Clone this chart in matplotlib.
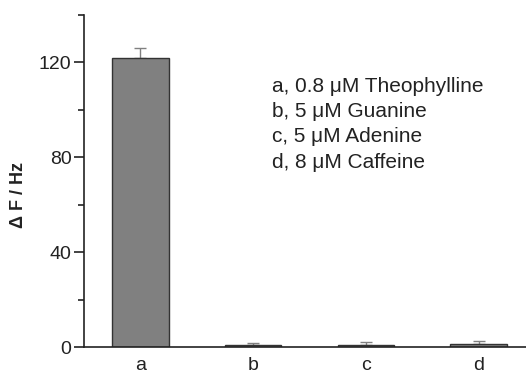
import numpy as np
import matplotlib.pyplot as plt
from matplotlib.ticker import MultipleLocator

plt.rcParams['font.family'] = ['Liberation Sans', 'DejaVu Sans']

# data
categories = ['a', 'b', 'c', 'd']
values = [122, 0.8, 1.0, 1.4]
errors = [4, 1.0, 1.0, 1.0]
legend_lines = ['a, 0.8 \u03bcM Theophylline',
                'b, 5 \u03bcM Guanine',
                'c, 5 \u03bcM Adenine',
                'd, 8 \u03bcM Caffeine']

fig = plt.figure(figsize=(5.26, 3.74), dpi=100)
ax = fig.add_axes([84 / 526, 27 / 374, (535 - 84) / 526, (347 - 15) / 374])

x = np.arange(1, len(categories) + 1)
ax.bar(x, values, width=0.5, color='#808080', edgecolor='#333333', linewidth=1, zorder=2)
ax.errorbar(x, values, yerr=[np.zeros(len(errors)), errors], fmt='none',
            ecolor='#808080', elinewidth=1, capsize=4, capthick=1, zorder=1)

ax.set_xlim(0.5, 4.5)
ax.set_ylim(0, 140)
ax.set_xticks(x)
ax.set_xticklabels(categories)
ax.set_yticks([0, 40, 80, 120])
ax.yaxis.set_minor_locator(MultipleLocator(20))

ax.spines['top'].set_visible(False)
ax.spines['right'].set_visible(False)
ax.spines['left'].set_linewidth(1.2)
ax.spines['bottom'].set_linewidth(1.2)
ax.spines['left'].set_color('#222222')
ax.spines['bottom'].set_color('#222222')
ax.tick_params(axis='y', which='major', direction='out', length=7, width=1.2,
               labelsize=14, pad=2, colors='#222222')
ax.tick_params(axis='y', which='minor', direction='out', length=4, width=1.2,
               colors='#222222')
ax.tick_params(axis='x', length=0, labelsize=14, pad=7, colors='#222222')

ax.set_ylabel('\u0394 F / Hz', fontsize=13, fontweight='bold', color='#222222')
ax.yaxis.set_label_coords(-57 / 451, (347 - 195) / 332)

for i, line in enumerate(legend_lines):
    fig.text(272 / 526, 1 - (86 + i * 25.5) / 374, line, fontsize=15,
             va='center', ha='left', color='#222222')

fig.savefig('out.png', dpi=100, facecolor='white')
